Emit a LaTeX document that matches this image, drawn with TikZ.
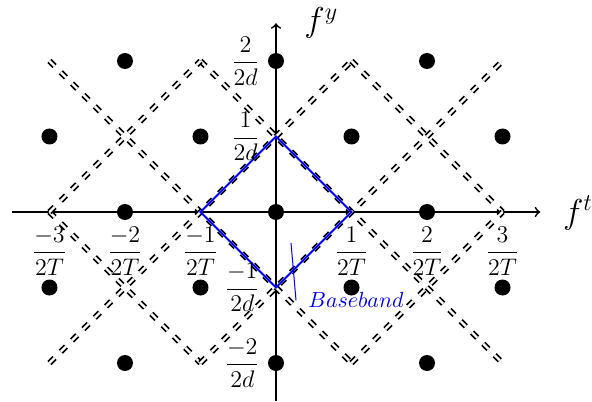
\documentclass[tikz,border=0pt]{standalone}
\usepackage{amsmath}
\begin{document}
\begin{tikzpicture}[x=37.75pt,y=37.75pt,
  axisline/.style={line width=0.9pt,->},
  aliasline/.style={double, line width=0.85pt, double distance=1.2pt, dash pattern=on 3.6pt off 4.4pt},
  baseline/.style={blue, line width=1pt},
  latdot/.style={circle, fill=black, inner sep=0pt, minimum size=8pt},
  ticklab/.style={font=\large},
  ptr/.style={blue, line width=0.5pt}]
\useasboundingbox (-3.6556,-2.5033) rectangle (4.1854,2.8079);
% axes
\coordinate (xa) at (-3.5,0);
\coordinate (xb) at (3.5,0);
\coordinate (ya) at (0,-2.5);
\coordinate (yb) at (0,2.5);
\draw[axisline] (xa) -- (xb);
\draw[axisline] (ya) -- (yb);
% alias boundaries
\draw[aliasline] (-3,2) -- (1,-2);
\draw[aliasline] (-1,2) -- (3,-2);
\draw[aliasline] (-3,0) -- (-1,-2);
\draw[aliasline] (1,2) -- (3,0);
\draw[aliasline] (-3,-2) -- (1,2);
\draw[aliasline] (-1,-2) -- (3,2);
\draw[aliasline] (-3,0) -- (-1,2);
\draw[aliasline] (1,-2) -- (3,0);
% baseband
\coordinate (b1) at (1,0);
\coordinate (b2) at (0,1);
\coordinate (b3) at (-1,0);
\coordinate (b4) at (0,-1);
\draw[baseline] (b1) -- (b2) -- (b3) -- (b4) -- cycle;
% dots
\foreach \p [count=\i] in {(-2,2),(0,2),(2,2),(-3,1),(-1,1),(1,1),(3,1),(-2,0),(0,0),(2,0),(-3,-1),(-1,-1),(1,-1),(3,-1),(-2,-2),(0,-2),(2,-2)}
  \node[latdot] (dot\i) at \p {};
% tick labels
\node[ticklab] (tx1) at (-3,-0.52) {$\dfrac{-3}{2T}$};
\node[ticklab] (tx2) at (-2,-0.52) {$\dfrac{-2}{2T}$};
\node[ticklab] (tx3) at (-1,-0.52) {$\dfrac{-1}{2T}$};
\node[ticklab] (tx4) at (1,-0.52) {$\dfrac{1}{2T}$};
\node[ticklab] (tx5) at (2,-0.52) {$\dfrac{2}{2T}$};
\node[ticklab] (tx6) at (3,-0.52) {$\dfrac{3}{2T}$};
\node[ticklab, anchor=east] (ty1) at (-0.12,2) {$\dfrac{2}{2d}$};
\node[ticklab, anchor=east] (ty2) at (-0.12,1) {$\dfrac{1}{2d}$};
\node[ticklab, anchor=east] (ty3) at (-0.12,-1) {$\dfrac{-1}{2d}$};
\node[ticklab, anchor=east] (ty4) at (-0.12,-2) {$\dfrac{-2}{2d}$};
% axis names
\node (fy) at (0.6,2.5) {\LARGE $f^y$};
\node (ft) at (4.0,-0.01) {\LARGE $f^t$};
% baseband label
\node[anchor=west, inner xsep=6pt, text=blue, font=\fontsize{11}{13}\selectfont] (bb) at (0.265,-1.17) {$Baseband$};
\coordinate (bbp) at (0.199,-0.411);
\draw[ptr] (bbp) -- (bb.west);
\end{tikzpicture}
\end{document}
